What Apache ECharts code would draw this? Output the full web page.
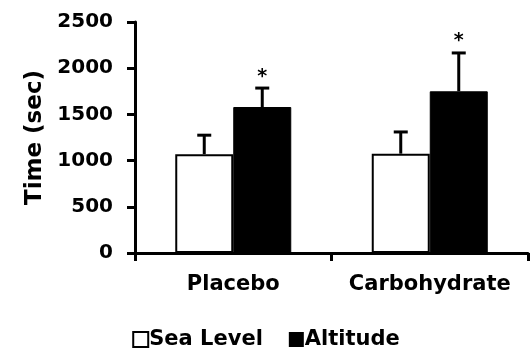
<!DOCTYPE html>
<html>
<head>
<meta charset="utf-8">
<script src="https://cdn.jsdelivr.net/npm/echarts@6/dist/echarts.min.js"></script>
<style>
html,body{margin:0;padding:0;background:#fff;}
#chart{width:532px;height:351px;}
</style>
</head>
<body>
<div id="chart"></div>
<script>
var categories = ['Placebo', 'Carbohydrate'];
var seaLevel = [1070, 1075];
var seaLevelErr = [205, 235];
var altitude = [1580, 1750];
var altitudeErr = [205, 415];
var significant = [true, true];
var yTicks = [0, 500, 1000, 1500, 2000, 2500];

var FONT = 'DejaVu Sans';
var BAR_W = 58;

function errData(vals, errs, sig) {
  return vals.map(function (v, i) { return [i, v, errs[i], sig ? (sig[i] ? 1 : 0) : 0]; });
}

function makeErrRender(side) {
  return function (params, api) {
    var i = api.value(0), v = api.value(1), e = api.value(2), s = api.value(3);
    var base = api.coord([i, v]);
    var top = api.coord([i, v + e]);
    var x = base[0] + side * BAR_W / 2;
    var children = [
      { type: 'line', shape: { x1: x, y1: base[1], x2: x, y2: top[1] }, style: { stroke: '#000', lineWidth: 3 } },
      { type: 'line', shape: { x1: x - 7, y1: top[1], x2: x + 7, y2: top[1] }, style: { stroke: '#000', lineWidth: 3 } }
    ];
    if (s) {
      children.push({ type: 'text', x: x, y: top[1] - 2, style: { text: '*', fontFamily: FONT, fontWeight: 'bold', fontSize: 19, fill: '#000', align: 'center', verticalAlign: 'bottom' } });
    }
    return { type: 'group', children: children };
  };
}

var chart = echarts.init(document.getElementById('chart'), null, { renderer: 'canvas' });
chart.setOption({
  animation: false,
  backgroundColor: '#fff',
  grid: { left: 135, right: 4, top: 22, bottom: 98 },
  legend: {
    top: 324,
    left: 'center',
    itemWidth: 15,
    itemHeight: 15,
    itemGap: 26,
    icon: 'rect',
    textStyle: { fontFamily: FONT, fontWeight: 'bold', fontSize: 21, color: '#000', padding: [0, 0, 0, -4] },
    data: [
      { name: 'Sea Level', itemStyle: { color: '#fff', borderColor: '#000', borderWidth: 2 } },
      { name: 'Altitude', itemStyle: { color: '#000', borderColor: '#000', borderWidth: 0 } }
    ]
  },
  xAxis: {
    type: 'category',
    data: categories,
    axisLine: { lineStyle: { color: '#000', width: 3 } },
    axisTick: { show: true, length: 8, lineStyle: { color: '#000', width: 3 } },
    axisLabel: { interval: 0, fontFamily: FONT, fontWeight: 'bold', fontSize: 21, color: '#000', margin: 21 }
  },
  yAxis: {
    type: 'value',
    min: yTicks[0],
    max: yTicks[yTicks.length - 1],
    interval: yTicks[1] - yTicks[0],
    name: 'Time (sec)',
    nameLocation: 'middle',
    nameGap: 88,
    nameTextStyle: { fontFamily: FONT, fontWeight: 'bold', fontSize: 23, color: '#000' },
    axisLine: { show: true, lineStyle: { color: '#000', width: 3 } },
    axisTick: { show: true, length: 8, lineStyle: { color: '#000', width: 3 } },
    splitLine: { show: false },
    axisLabel: { fontFamily: FONT, fontWeight: 'bold', fontSize: 20, color: '#000', margin: 22,
      formatter: function (v) { return String(v); } }
  },
  series: [
    { name: 'Sea Level', type: 'bar', data: seaLevel, barWidth: BAR_W, barGap: '0%',
      itemStyle: { color: '#fff', borderColor: '#000', borderWidth: 2 } },
    { name: 'Altitude', type: 'bar', data: altitude, barWidth: BAR_W, barGap: '0%',
      itemStyle: { color: '#000', borderColor: '#000', borderWidth: 1 } },
    { type: 'custom', name: 'seErr', data: errData(seaLevel, seaLevelErr, null), renderItem: makeErrRender(-1), z: 1 },
    { type: 'custom', name: 'altErr', data: errData(altitude, altitudeErr, significant), renderItem: makeErrRender(1), z: 1 }
  ]
});
</script>
</body>
</html>
